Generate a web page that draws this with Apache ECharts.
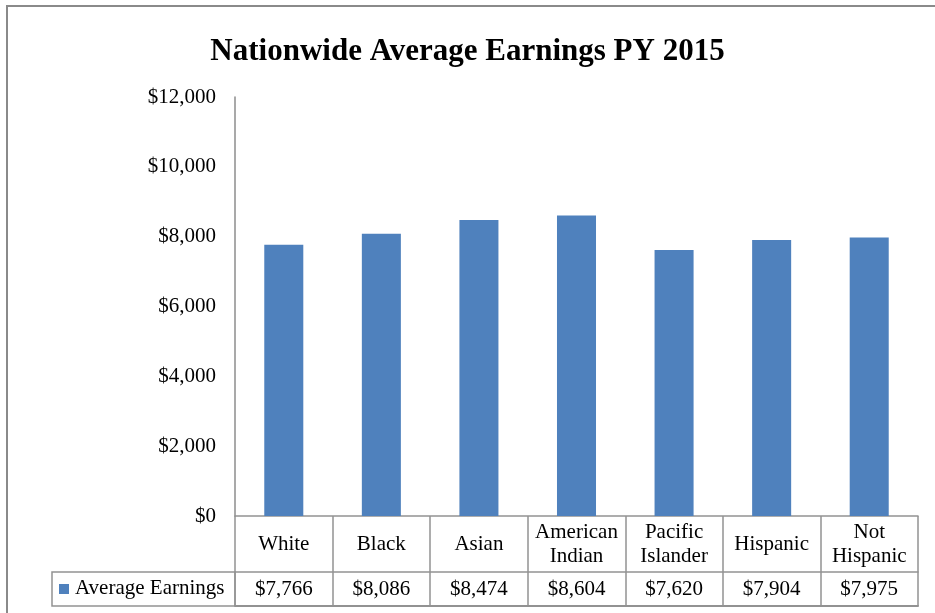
<!DOCTYPE html>
<html>
<head>
<meta charset="utf-8">
<script src="https://cdn.jsdelivr.net/npm/echarts@6/dist/echarts.min.js"></script>
<style>
html,body{margin:0;padding:0;background:#fff;}
#chart{width:935px;height:613px;}
</style>
</head>
<body>
<div id="chart"></div>
<script>
var categories = ['White', 'Black', 'Asian', 'American\nIndian', 'Pacific\nIslander', 'Hispanic', 'Not\nHispanic'];
var earnings = [7766, 8086, 8474, 8604, 7620, 7904, 7975];
var seriesName = 'Average Earnings';
var titleText = 'Nationwide Average Earnings PY 2015';
var yTicks = [0, 2000, 4000, 6000, 8000, 10000, 12000];

function money(v) {
  return '$' + v.toLocaleString('en-US');
}

var FONT = "'Liberation Serif', 'Times New Roman', serif";
var GRID_LINE = '#929292';
var chart = echarts.init(document.getElementById('chart'));

var option = {
  backgroundColor: '#fff',
  animation: false,
  textStyle: { fontFamily: FONT },
  title: {
    text: titleText,
    left: 'center',
    top: 31,
    textStyle: { fontFamily: FONT, fontWeight: 'bold', fontSize: 31, color: '#000' }
  },
  grid: { left: 235, right: 17, top: 97, bottom: 97, containLabel: false },
  yAxis: {
    type: 'value',
    min: yTicks[0],
    max: yTicks[yTicks.length - 1],
    interval: 2000,
    axisLine: { show: true, lineStyle: { color: '#8c8c8c', width: 1.5 } },
    axisTick: { show: false },
    splitLine: { show: false },
    axisLabel: {
      margin: 19,
      fontFamily: FONT, fontSize: 21, color: '#000',
      formatter: function (v) { return money(v); }
    }
  },
  xAxis: [
    {
      type: 'category',
      data: categories,
      position: 'bottom',
      axisLine: { show: true, lineStyle: { color: GRID_LINE, width: 1.5 } },
      axisTick: { show: true, length: 90, interval: 0, alignWithLabel: false, lineStyle: { color: GRID_LINE, width: 1.5 } },
      axisLabel: {
        interval: 0, margin: 28, verticalAlign: 'middle', lineHeight: 24,
        fontFamily: FONT, fontSize: 21, color: '#000'
      }
    },
    {
      type: 'category',
      data: earnings.map(money),
      position: 'bottom',
      offset: 56,
      axisLine: { show: true, lineStyle: { color: GRID_LINE, width: 1.5 } },
      axisTick: { show: false },
      axisLabel: {
        interval: 0, margin: 17, verticalAlign: 'middle',
        fontFamily: FONT, fontSize: 21, color: '#000'
      }
    },
    {
      type: 'category',
      data: categories,
      position: 'bottom',
      offset: 90,
      axisLine: { show: true, lineStyle: { color: GRID_LINE, width: 2 } },
      axisTick: { show: false },
      axisLabel: { show: false }
    }
  ],
  series: [{
    name: seriesName,
    type: 'bar',
    xAxisIndex: 0,
    data: earnings,
    barWidth: '40%',
    itemStyle: { color: '#4F81BD' }
  }],
  graphic: [
    {
      type: 'rect',
      shape: { x: 7, y: 6, width: 960, height: 640 },
      style: { fill: 'none', stroke: '#8a8a8a', lineWidth: 2 },
      z: 100
    },
    {
      type: 'rect',
      shape: { x: 52, y: 572, width: 183, height: 34 },
      style: { fill: 'none', stroke: GRID_LINE, lineWidth: 1.5 },
      z: 100
    },
    {
      type: 'rect',
      shape: { x: 59, y: 584, width: 10, height: 10 },
      style: { fill: '#4F81BD' },
      z: 100
    },
    {
      type: 'text',
      left: 75,
      top: 578,
      style: { text: seriesName, fontFamily: FONT, fontSize: 21, fill: '#000' },
      z: 100
    }
  ]
};
chart.setOption(option);
</script>
</body>
</html>
